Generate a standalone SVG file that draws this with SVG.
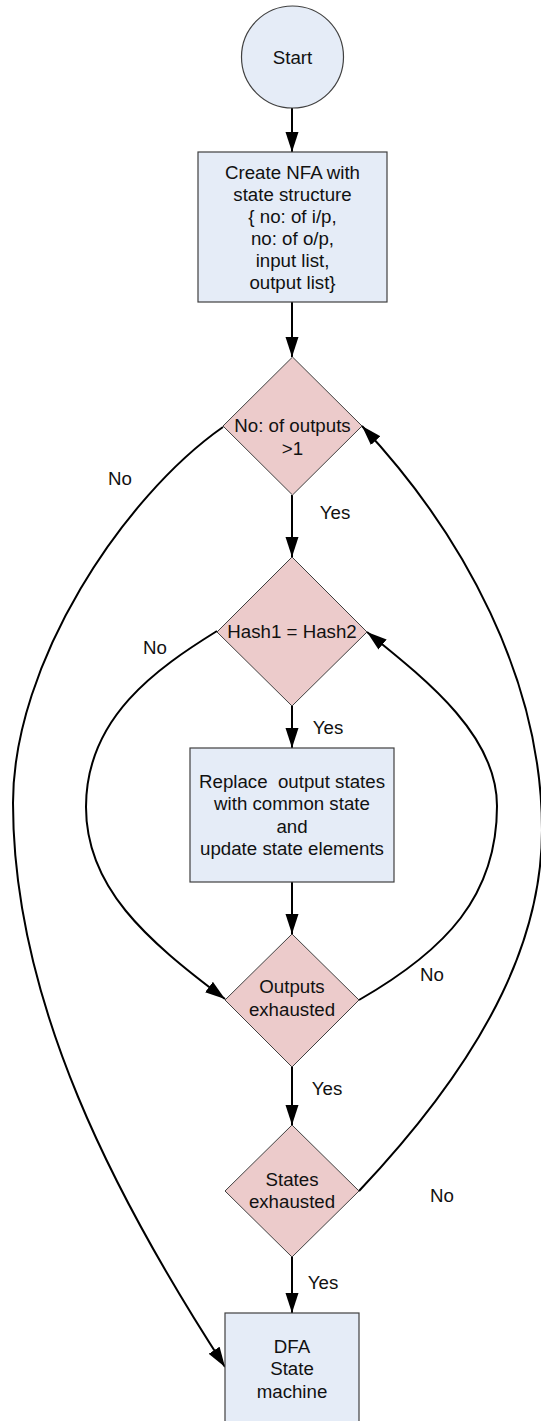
<svg xmlns="http://www.w3.org/2000/svg" width="541" height="1421" viewBox="0 0 541 1421">
<defs>
<marker id="ah" markerUnits="userSpaceOnUse" markerWidth="21" markerHeight="14" refX="20" refY="6.5" orient="auto">
<path d="M0,0 L20,6.5 L0,13 z" fill="#000"/>
</marker>
<style>
.box{fill:#E5ECF7;stroke:#404040;stroke-width:1.2}
.dec{fill:#ECCBCB;stroke:#404040;stroke-width:1}
.t{font-family:"Liberation Sans",Arial,sans-serif;font-size:18.7px;fill:#111;text-anchor:middle}
.c{fill:none;stroke:#000;stroke-width:2;marker-end:url(#ah)}
</style>
</defs>
<rect width="541" height="1421" fill="#fff"/>
<g id="connectors">
<path class="c" d="M292,108 L292,152"/>
<path class="c" d="M292,302 L292,357"/>
<path class="c" d="M292,495 L292,557"/>
<path class="c" d="M292,706 L292,748"/>
<path class="c" d="M292,882 L292,934"/>
<path class="c" d="M292,1067 L292,1125"/>
<path class="c" d="M292,1257 L292,1313"/>
<path class="c" d="M223,427 C123,497 13,663 13,803 C13,1003 116,1199 225,1367"/>
<path class="c" d="M217,631 C157.5,668 86,717 86,807 C86,887 145,939 225,999"/>
<path class="c" d="M359,1191 C497,1045 542,930 542,830 C542,680 464,535 362,426"/>
<path class="c" d="M359,1000 C446,950 497,896 497,806 C497,736 429,682 367,632"/>
<text class="t" x="120" y="485">No</text>
<text class="t" x="335" y="519">Yes</text>
<text class="t" x="155" y="654">No</text>
<text class="t" x="328" y="734">Yes</text>
<text class="t" x="432" y="981">No</text>
<text class="t" x="327" y="1095">Yes</text>
<text class="t" x="442" y="1202">No</text>
<text class="t" x="323" y="1289">Yes</text>
</g>
<g id="start">
<circle class="box" cx="292.5" cy="57" r="51"/>
<text class="t" x="292.5" y="63.5">Start</text>
</g>
<g id="create-nfa">
<rect class="box" x="198" y="152" width="189" height="150"/>
<text class="t" x="292.5" y="178.5">Create NFA with</text>
<text class="t" x="292.5" y="200.5">state structure</text>
<text class="t" x="292.5" y="222.5">{ no: of i/p,</text>
<text class="t" x="292.5" y="244.5">no: of o/p,</text>
<text class="t" x="292.5" y="267">input list,</text>
<text class="t" x="292.5" y="289">output list}</text>
</g>
<g id="outputs-gt1">
<polygon class="dec" points="292.5,357 362,426 292.5,495 223,426"/>
<text class="t" x="292.5" y="432">No: of outputs</text>
<text class="t" x="292.5" y="454.5">&gt;1</text>
</g>
<g id="hash-eq">
<polygon class="dec" points="292,557 367,632 292,706 217,632"/>
<text class="t" x="292" y="638">Hash1 = Hash2</text>
</g>
<g id="replace">
<rect class="box" x="190" y="748" width="204" height="134"/>
<text class="t" x="292" y="787.5" xml:space="preserve">Replace  output states</text>
<text class="t" x="292" y="810">with common state</text>
<text class="t" x="292" y="832.5">and</text>
<text class="t" x="292" y="854.5">update state elements</text>
</g>
<g id="outputs-exhausted">
<polygon class="dec" points="292,934 359,1000 292,1067 225,1000"/>
<text class="t" x="292" y="993">Outputs</text>
<text class="t" x="292" y="1015.5">exhausted</text>
</g>
<g id="states-exhausted">
<polygon class="dec" points="292,1125 359,1191 292,1257 225,1191"/>
<text class="t" x="292" y="1185.5">States</text>
<text class="t" x="292" y="1207.5">exhausted</text>
</g>
<g id="dfa">
<rect class="box" x="225" y="1313" width="134" height="111"/>
<text class="t" x="292" y="1352.5">DFA</text>
<text class="t" x="292" y="1374.5">State</text>
<text class="t" x="292" y="1397.5">machine</text>
</g>
</svg>
